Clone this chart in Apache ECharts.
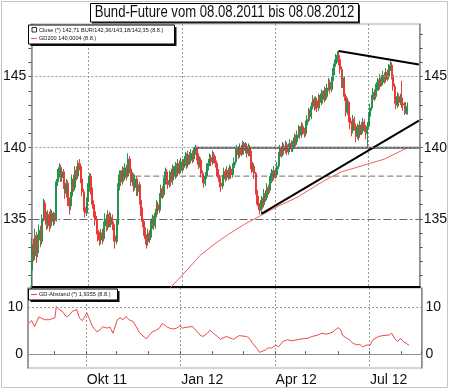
<!DOCTYPE html>
<html><head><meta charset="utf-8">
<script src="https://cdn.jsdelivr.net/npm/echarts@6/dist/echarts.min.js"></script>
<style>html,body{margin:0;padding:0;background:#fff}#c{width:450px;height:391px}</style>
</head><body><div id="c"></div>
<script>
// ---- trading days (categories) ----
const tradingDays = [
  ['2011-08',[8,9,10,11,12,15,16,17,18,19,22,23,24,25,26,29,30,31]],
  ['2011-09',[1,2,5,6,7,8,9,12,13,14,15,16,19,20,21,22,23,26,27,28,29,30]],
  ['2011-10',[3,4,5,6,7,10,11,12,13,14,17,18,19,20,21,24,25,26,27,28,31]],
  ['2011-11',[1,2,3,4,7,8,9,10,11,14,15,16,17,18,21,22,23,24,25,28,29,30]],
  ['2011-12',[1,2,5,6,7,8,9,12,13,14,15,16,19,20,21,22,23,26,27,28,29,30]],
  ['2012-01',[2,3,4,5,6,9,10,11,12,13,16,17,18,19,20,23,24,25,26,27,30,31]],
  ['2012-02',[1,2,3,6,7,8,9,10,13,14,15,16,17,20,21,22,23,24,27,28,29]],
  ['2012-03',[1,2,5,6,7,8,9,12,13,14,15,16,19,20,21,22,23,26,27,28,29,30]],
  ['2012-04',[2,3,4,5,6,9,10,11,12,13,16,17,18,19,20,23,24,25,26,27,30]],
  ['2012-05',[1,2,3,4,7,8,9,10,11,14,15,16,17,18,21,22,23,24,25,28,29,30,31]],
  ['2012-06',[1,4,5,6,7,8,11,12,13,14,15,18,19,20,21,22,25,26,27,28,29]],
  ['2012-07',[2,3,4,5,6,9,10,11,12,13,16,17,18,19,20,23,24,25,26,27,30,31]],
  ['2012-08',[1,2,3,6,7,8]]
];
// empty axis space after the last bar
const axisPadDays = ['2012-08-09','2012-08-10','2012-08-13','2012-08-14','2012-08-15','2012-08-16','2012-08-17','2012-08-20'];

const tickDates  = ['2011-10-03','2012-01-02','2012-04-02','2012-07-02'];
const tickLabels = ['Okt 11','Jan 12','Apr 12','Jul 12'];
const titleText = 'Bund-Future vom 08.08.2011 bis 08.08.2012';

// ---- Bund-Future daily OHLC ----
const opens = [
131.4,133.2,132.4,133.8,132.6,133.5,134.2,133.4,135.0,136.1,
135.2,134.6,135.3,134.5,135.4,134.8,135.1,134.9,137.6,138.2,
138.6,137.9,138.3,137.4,136.8,137.5,136.2,135.9,136.6,137.8,
137.2,138.4,138.0,138.9,138.7,137.8,136.9,135.8,135.4,136.2,
137.2,138.0,137.0,136.0,135.5,134.9,134.2,133.8,133.5,134.0,
133.6,134.5,135.0,134.4,135.3,134.7,135.1,134.6,133.8,133.4,
134.6,137.2,138.1,137.6,138.4,137.9,138.6,138.0,139.2,138.5,
137.6,138.0,137.2,137.8,136.9,137.4,136.3,135.6,134.8,134.2,
133.6,133.4,134.0,133.7,134.6,135.0,134.5,135.4,136.0,135.6,
136.5,137.1,136.7,137.6,138.3,137.7,137.4,138.1,137.6,138.5,
138.0,138.7,138.2,138.9,138.4,139.0,138.6,138.9,139.4,138.8,
139.5,139.1,139.6,139.2,139.7,140.0,139.4,138.8,139.1,138.2,
137.8,137.5,138.0,138.6,138.9,139.3,139.0,139.5,139.2,138.9,
138.3,137.9,137.5,137.3,137.8,138.3,137.9,138.4,138.0,138.5,
138.1,138.6,139.0,139.6,139.9,139.5,140.0,139.7,140.3,139.8,
140.1,139.6,140.0,139.7,138.5,138.7,138.2,137.0,136.4,135.9,
135.6,136.3,136.0,136.8,136.5,137.2,137.0,137.7,138.2,137.9,
138.4,138.1,138.7,139.4,139.9,139.6,140.1,139.8,140.2,139.7,
140.0,140.3,139.9,140.2,140.7,140.4,140.9,141.3,140.9,141.5,
141.2,141.0,141.6,142.0,142.5,142.2,142.9,143.4,142.9,143.3,
142.8,143.5,143.2,143.8,143.4,144.0,143.6,144.2,144.6,144.1,
144.7,145.3,145.9,146.3,146.5,146.2,145.5,144.5,144.9,143.6,
142.5,143.2,142.1,141.7,141.2,142.0,141.5,140.8,141.4,140.9,
141.6,141.2,141.8,141.4,141.0,141.5,142.2,142.8,143.4,143.9,
143.6,144.2,144.6,144.3,144.9,144.6,145.1,144.8,145.3,145.0,
145.6,145.8,145.1,144.3,143.4,143.0,143.6,143.2,143.5,143.1,
143.0,142.6,142.36];
const closes = [
133.2,132.4,133.8,132.6,133.5,134.2,133.4,135.0,136.1,135.2,
134.6,135.3,134.5,135.4,134.8,135.1,134.9,137.6,138.2,138.6,
137.9,138.3,137.4,136.8,137.5,136.2,135.9,136.6,137.8,137.2,
138.4,138.0,138.9,138.7,137.8,136.9,135.8,135.4,136.2,137.2,
138.0,137.0,136.0,135.5,134.9,134.2,133.8,133.5,134.0,133.6,
134.5,135.0,134.4,135.3,134.7,135.1,134.6,133.8,133.4,134.6,
137.2,138.1,137.6,138.4,137.9,138.6,138.0,139.2,138.5,137.6,
138.0,137.2,137.8,136.9,137.4,136.3,135.6,134.8,134.2,133.6,
133.4,134.0,133.7,134.6,135.0,134.5,135.4,136.0,135.6,136.5,
137.1,136.7,137.6,138.3,137.7,137.4,138.1,137.6,138.5,138.0,
138.7,138.2,138.9,138.4,139.0,138.6,138.9,139.4,138.8,139.5,
139.1,139.6,139.2,139.7,140.0,139.4,138.8,139.1,138.2,137.8,
137.5,138.0,138.6,138.9,139.3,139.0,139.5,139.2,138.9,138.3,
137.9,137.5,137.3,137.8,138.3,137.9,138.4,138.0,138.5,138.1,
138.6,139.0,139.6,139.9,139.5,140.0,139.7,140.3,139.8,140.1,
139.6,140.0,139.7,138.5,138.7,138.2,137.0,136.4,135.9,135.6,
136.3,136.0,136.8,136.5,137.2,137.0,137.7,138.2,137.9,138.4,
138.1,138.7,139.4,139.9,139.6,140.1,139.8,140.2,139.7,140.0,
140.3,139.9,140.2,140.7,140.4,140.9,141.3,140.9,141.5,141.2,
141.0,141.6,142.0,142.5,142.2,142.9,143.4,142.9,143.3,142.8,
143.5,143.2,143.8,143.4,144.0,143.6,144.2,144.6,144.1,144.7,
145.3,145.9,146.3,146.5,146.2,145.5,144.5,144.9,143.6,142.5,
143.2,142.1,141.7,141.2,142.0,141.5,140.8,141.4,140.9,141.6,
141.2,141.8,141.4,141.0,141.5,142.2,142.8,143.4,143.9,143.6,
144.2,144.6,144.3,144.9,144.6,145.1,144.8,145.3,145.0,145.6,
145.8,145.1,144.3,143.4,143.0,143.6,143.2,143.5,143.1,143.0,
142.6,142.9,142.71];
const lows = [
129.8,132.0,132.1,131.9,132.3,133.2,133.0,133.2,134.8,134.9,
134.2,134.3,134.1,134.3,134.5,134.5,134.6,134.8,137.3,137.9,
137.6,137.6,137.1,136.4,136.5,135.9,135.3,135.6,136.4,136.9,
137.0,137.7,137.8,138.4,137.5,136.6,135.5,135.1,135.2,136.0,
136.9,136.7,135.7,135.1,134.5,133.9,133.4,133.1,133.2,133.2,
133.4,134.2,134.1,134.2,134.4,134.4,134.2,133.4,132.9,133.2,
134.4,137.0,137.3,137.4,137.6,137.7,137.7,137.9,138.2,137.3,
137.3,136.9,137.0,136.6,136.6,136.0,135.2,134.4,133.8,133.2,
132.9,133.1,133.3,133.5,134.3,134.2,134.3,135.1,135.3,135.4,
136.3,136.4,136.5,137.4,137.4,137.1,137.2,137.3,137.4,137.7,
137.8,137.9,138.0,138.1,138.2,138.3,138.4,138.7,138.5,138.6,
138.8,138.9,138.9,139.0,139.5,139.1,138.5,138.6,137.9,137.5,
137.2,137.3,137.8,138.4,138.7,138.7,138.8,138.9,138.6,138.0,
137.6,137.2,136.9,137.1,137.6,137.6,137.7,137.7,137.8,137.8,
137.9,138.4,138.8,139.4,139.2,139.3,139.4,139.5,139.5,139.6,
139.3,139.4,139.4,138.2,138.3,137.8,136.7,136.0,135.6,135.3,
135.4,135.7,135.8,136.2,136.3,136.7,136.8,137.5,137.6,137.7,
137.8,137.9,138.5,139.2,139.3,139.4,139.5,139.6,139.5,139.5,
139.8,139.7,139.7,140.0,140.1,140.2,140.7,140.6,140.7,140.9,
140.7,140.8,141.4,141.8,141.9,142.0,142.7,142.6,142.7,142.5,
142.6,142.9,143.0,143.1,143.2,143.3,143.4,144.0,143.8,143.9,
144.5,145.1,145.7,146.0,145.8,145.2,144.2,144.2,143.3,142.2,
142.3,141.8,141.3,140.8,141.0,141.2,140.4,140.6,140.5,140.7,
140.9,141.0,141.1,140.6,140.0,141.3,142.0,142.6,143.2,143.3,
143.4,144.0,144.0,144.1,144.3,144.4,144.5,144.6,144.7,144.8,
145.4,144.8,144.0,143.1,142.7,142.8,142.9,143.0,142.8,142.6,
142.3,142.4,142.35];
const highs = [
133.7,133.6,134.3,134.1,133.9,134.6,134.5,135.3,136.4,136.3,
135.5,135.6,135.5,135.7,135.6,135.5,135.4,137.8,138.5,138.9,
138.8,138.6,138.5,137.7,137.8,137.7,136.5,136.9,138.1,138.1,
138.7,138.7,139.1,139.2,138.9,138.0,137.1,136.1,136.5,137.5,
138.2,138.2,137.2,136.3,135.8,135.2,134.5,134.1,134.3,134.3,
134.8,135.4,135.3,135.6,135.5,135.4,135.3,134.8,134.0,134.9,
137.5,138.4,138.4,138.7,138.6,138.9,138.8,139.6,139.4,138.7,
138.3,138.2,138.1,138.0,137.7,137.6,136.5,135.8,135.0,134.4,
133.9,134.3,134.2,134.9,135.3,135.2,135.7,136.3,136.2,136.8,
137.4,137.3,137.9,138.6,138.5,137.9,138.4,138.3,138.8,138.7,
139.0,138.9,139.2,139.1,139.3,139.2,139.2,139.7,139.6,139.8,
139.7,139.9,139.8,140.0,140.2,140.1,139.6,139.4,139.3,138.4,
138.0,138.3,138.9,139.2,139.6,139.5,139.8,139.7,139.4,139.1,
138.5,138.1,137.8,138.1,138.6,138.5,138.7,138.6,138.8,138.7,
138.9,139.3,139.9,140.2,140.1,140.3,140.2,140.5,140.4,140.4,
140.3,140.3,140.2,139.8,139.0,138.9,138.3,137.2,136.6,136.1,
136.6,136.5,137.1,137.0,137.5,137.4,138.0,138.5,138.4,138.7,
138.6,139.0,139.7,140.2,140.1,140.4,140.3,140.5,140.4,140.3,
140.6,140.5,140.5,141.0,140.9,141.2,141.6,141.5,141.8,141.7,
141.4,141.9,142.3,142.8,142.7,143.2,143.7,143.6,143.6,143.5,
143.8,143.7,144.1,144.0,144.3,144.2,144.5,144.9,144.8,145.0,
145.6,146.2,146.6,146.8,146.8,146.4,145.7,145.2,145.0,143.8,
143.5,143.3,142.4,141.9,142.3,142.2,141.7,141.7,141.6,141.9,
141.8,142.1,142.0,141.6,141.8,142.5,143.1,143.7,144.2,144.1,
144.5,144.9,144.8,145.2,145.1,145.4,145.3,145.6,145.5,145.9,
146.1,146.0,145.3,144.5,143.6,143.9,143.8,143.8,144.7,143.4,
143.2,143.2,143.18];

// ---- GD200 (200-day moving average) ----
const gd200 = [
['2011-12-16',129.9],['2011-12-21',130.2],['2012-01-09',131.6],['2012-01-18',132.4],
['2012-02-01',133.2],['2012-02-15',133.9],['2012-03-01',134.6],['2012-03-20',135.3],
['2012-04-04',135.9],['2012-04-23',136.5],['2012-05-08',137.2],['2012-05-22',137.8],
['2012-06-05',138.3],['2012-06-19',138.6],['2012-07-03',138.9],['2012-07-17',139.2],
['2012-07-27',139.6],['2012-08-08',140.0]];

// ---- GD-Abstand (%) ----
const gdAbstand = [
['2011-08-08',6.6],['2011-08-10',7.2],['2011-08-12',5.9],['2011-08-17',8.0],['2011-08-23',7.4],
['2011-08-26',7.4],['2011-09-01',7.8],['2011-09-02',10.2],['2011-09-06',9.6],['2011-09-08',9.2],
['2011-09-13',8.0],['2011-09-15',8.4],['2011-09-19',9.2],['2011-09-22',9.6],['2011-09-26',7.7],
['2011-09-28',7.2],['2011-10-03',8.9],['2011-10-05',7.4],['2011-10-07',5.9],['2011-10-12',4.8],
['2011-10-14',5.2],['2011-10-18',5.9],['2011-10-21',5.6],['2011-10-25',5.8],['2011-10-27',4.5],
['2011-11-01',7.4],['2011-11-03',7.8],['2011-11-07',7.4],['2011-11-09',8.1],['2011-11-11',7.4],
['2011-11-16',7.0],['2011-11-18',5.9],['2011-11-22',4.8],['2011-11-24',4.1],['2011-11-29',3.3],
['2011-12-01',4.1],['2011-12-05',4.8],['2011-12-08',5.2],['2011-12-12',5.6],['2011-12-14',6.6],
['2011-12-19',5.9],['2011-12-21',5.6],['2011-12-23',5.4],['2011-12-28',5.6],['2011-12-30',6.1],
['2012-01-03',5.6],['2012-01-06',5.8],['2012-01-10',5.9],['2012-01-12',5.9],['2012-01-17',4.8],
['2012-01-19',4.1],['2012-01-23',3.8],['2012-01-26',4.5],['2012-01-30',5.2],['2012-02-01',4.5],
['2012-02-06',3.8],['2012-02-08',3.2],['2012-02-14',3.8],['2012-02-21',3.2],['2012-02-27',4.0],
['2012-03-05',3.8],['2012-03-07',3.4],['2012-03-09',2.4],['2012-03-14',1.3],['2012-03-16',0.4],
['2012-03-19',0.2],['2012-03-22',0.9],['2012-03-26',1.4],['2012-03-28',1.3],['2012-04-02',1.9],
['2012-04-04',1.6],['2012-04-09',2.7],['2012-04-12',3.1],['2012-04-17',2.9],['2012-04-23',3.1],
['2012-04-26',3.3],['2012-05-02',3.4],['2012-05-07',3.8],['2012-05-11',4.1],['2012-05-16',4.5],
['2012-05-21',4.3],['2012-05-25',4.7],['2012-05-29',5.2],['2012-05-31',5.7],['2012-06-04',5.2],
['2012-06-05',4.1],['2012-06-08',3.4],['2012-06-12',3.1],['2012-06-14',2.4],['2012-06-19',2.0],
['2012-06-21',2.1],['2012-06-25',1.6],['2012-06-28',2.0],['2012-07-02',1.9],['2012-07-04',3.1],
['2012-07-10',3.8],['2012-07-13',4.0],['2012-07-19',4.1],['2012-07-23',4.5],['2012-07-25',3.4],
['2012-07-27',2.7],['2012-07-31',3.4],['2012-08-02',2.7],['2012-08-07',2.1],['2012-08-08',1.9355]];

// ---- drawn trend / level lines ----
const supportLine    = [['2012-03-19',135.35],['2012-08-20',141.9]];
const resistanceLine = [['2012-06-01',146.8],['2012-08-20',145.85]];
const level140       = [['2012-01-12',140.0],['2012-08-20',140.0]];
const level138       = [['2011-11-16',138.0],['2012-08-20',138.0]];
const level135 = 135;

// ---- build ----
const dates = [];
tradingDays.forEach(([m, days]) => days.forEach(d => dates.push(m + '-' + String(d).padStart(2,'0'))));
const categories = dates.concat(axisPadDays);
const candleData = dates.map((d,i) => [opens[i], closes[i], lows[i], highs[i]]);
const labelMap = {}; tickDates.forEach((d,i) => labelMap[d] = tickLabels[i]);
const monthStarts = new Set();
categories.forEach((d,i) => { if (i>0 && d.slice(0,7) !== categories[i-1].slice(0,7)) monthStarts.add(d); });

const FONT = 'Liberation Sans, Arial, sans-serif';
const intTicks = []; for (let v = 131; v <= 148; v++) intTicks.push(v);
const gridDot = {color:'#9a9a9a', type:[2,2], width:1};

const xBase = (gi, showLabels) => ({
  type:'category', gridIndex:gi, data:categories, boundaryGap:true,
  axisLine: gi===0 ? {show:true, lineStyle:{color:'#000', width:2}} : {show:true, lineStyle:{color:'#888', width:1}},
  axisTick: showLabels ? {show:true, inside:true, length:3, interval:(i,v)=>monthStarts.has(v), lineStyle:{color:'#555'}} : {show:false},
  axisLabel: showLabels ? {show:true, interval:(i,v)=>v in labelMap, formatter:v=>labelMap[v]||'', align:'left', fontSize:14, color:'#111', fontFamily:FONT, margin:5} : {show:false},
  splitLine: {show:true, interval:(i,v)=>v in labelMap, lineStyle:gridDot}
});
const yBase = (gi, pos, min, max, labels, ticks) => ({
  type:'value', gridIndex:gi, position:pos, min:min, max:max,
  axisLine:{show:true, lineStyle:{color:'#8a8a8a', width:1.5}},
  axisTick: ticks ? {show:true, customValues:ticks, length:3, lineStyle:{color:'#555'}} : {show:false},
  axisLabel:{show:true, customValues:labels, fontSize:14, color:'#111', fontFamily:FONT, margin:pos==='left'?5:4},
  splitLine:{show:false}
});
const noSym = {symbol:['none','none'], silent:true, animation:false, label:{show:false}};

const chart = echarts.init(document.getElementById('c'), null, {renderer:'canvas'});
chart.setOption({
  animation:false,
  backgroundColor:'#fff',
  grid:[
    {left:28, right:28.5, top:24, height:263, show:true, borderColor:'#aaa', borderWidth:1},
    {left:28, right:28.5, top:288, height:80, show:true, borderColor:'#aaa', borderWidth:1}
  ],
  xAxis:[xBase(0,false), xBase(1,true)],
  yAxis:[
    yBase(0,'left',130.2,148.7,[135,140,145],intTicks),
    yBase(0,'right',130.2,148.7,[135,140,145],intTicks),
    yBase(1,'left',-2.95,14.2,[0,10],null),
    yBase(1,'right',-2.95,14.2,[0,10],null)
  ],
  series:[
    {type:'line', name:'GD200', xAxisIndex:0, yAxisIndex:0, data:gd200, showSymbol:false, smooth:false, z:1,
     lineStyle:{color:'#f06060', width:1}, clip:true,
     markLine:Object.assign({}, noSym, {data:[
       {yAxis:145, lineStyle:gridDot},
       {yAxis:140, lineStyle:gridDot},
       {yAxis:level135, lineStyle:{color:'#666', width:1, type:[8,3,2,3]}}
     ]})},
    {type:'candlestick', name:'Close', xAxisIndex:0, yAxisIndex:0, data:candleData, z:2, barWidth:1.5, clip:true,
     itemStyle:{color:'#25924e', color0:'#ee3838', borderColor:'#25924e', borderColor0:'#ee3838', borderWidth:1}},
    {type:'line', xAxisIndex:0, yAxisIndex:0, data:level138, showSymbol:false, z:3, lineStyle:{color:'#6e6e6e', width:1, type:[6,3]}},
    {type:'line', xAxisIndex:0, yAxisIndex:0, data:level140, showSymbol:false, z:3, lineStyle:{color:'#555', width:2}},
    {type:'line', xAxisIndex:0, yAxisIndex:0, data:supportLine, showSymbol:false, z:4, lineStyle:{color:'#000', width:2}},
    {type:'line', xAxisIndex:0, yAxisIndex:0, data:resistanceLine, showSymbol:false, z:4, lineStyle:{color:'#000', width:2}},
    {type:'line', name:'GD-Abstand', xAxisIndex:1, yAxisIndex:2, data:gdAbstand, showSymbol:false, z:2,
     lineStyle:{color:'#f04848', width:1},
     markLine:Object.assign({}, noSym, {data:[{yAxis:0, lineStyle:gridDot},{yAxis:10, lineStyle:gridDot}]})}
  ],
  graphic:[
    {type:'rect', z:-1, shape:{x:1.5,y:1.5,width:446,height:386}, style:{fill:'none', stroke:'#c4c4c4', lineWidth:1}},
    // title box
    {type:'rect', z:10, shape:{x:92,y:5,width:268,height:18.5}, style:{fill:'#333'}},
    {type:'rect', z:11, shape:{x:90.5,y:3.5,width:268,height:18.5}, style:{fill:'#fff', stroke:'#000', lineWidth:1}},
    {type:'text', z:12, x:224.5, y:13, scaleX:0.82,
     style:{text:titleText, fontSize:16, fontFamily:FONT, fill:'#111', textAlign:'center', textVerticalAlign:'middle'}},
    // main legend
    {type:'rect', z:10, shape:{x:30.5,y:27,width:146,height:19}, style:{fill:'#111'}},
    {type:'rect', z:11, shape:{x:28.5,y:25,width:146,height:19}, style:{fill:'#fff', stroke:'#000', lineWidth:1}},
    {type:'rect', z:12, shape:{x:32,y:27.5,width:4.5,height:4.5}, style:{fill:'#fff', stroke:'#000', lineWidth:0.8}},
    {type:'text', z:12, x:39, y:30, style:{text:'Close (*) 142,71 BUR/142,36/143,18/142,35 (8.8.)', fontSize:5.6, fontFamily:FONT, fill:'#111', textVerticalAlign:'middle'}},
    {type:'line', z:12, shape:{x1:31,y1:38.5,x2:37,y2:38.5}, style:{stroke:'#f06060', lineWidth:1}},
    {type:'text', z:12, x:39, y:38.5, style:{text:'GD200 140,0004 (8.8.)', fontSize:5.6, fontFamily:FONT, fill:'#111', textVerticalAlign:'middle'}},
    // lower legend
    {type:'rect', z:10, shape:{x:30.5,y:291,width:89,height:11}, style:{fill:'#111'}},
    {type:'rect', z:11, shape:{x:28.5,y:289,width:89,height:11}, style:{fill:'#fff', stroke:'#000', lineWidth:1}},
    {type:'line', z:12, shape:{x1:31,y1:294.5,x2:37,y2:294.5}, style:{stroke:'#f04848', lineWidth:1}},
    {type:'text', z:12, x:39, y:294.5, style:{text:'GD-Abstand (*) 1,9355 (8.8.)', fontSize:5.6, fontFamily:FONT, fill:'#111', textVerticalAlign:'middle'}}
  ]
});
</script></body></html>
